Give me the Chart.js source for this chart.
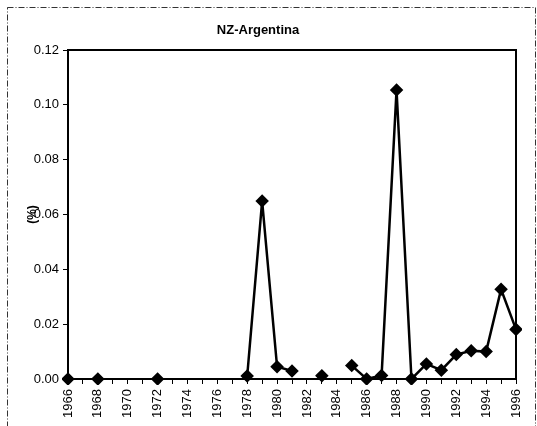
<!DOCTYPE html>
<html>
<head>
<meta charset="utf-8">
<script src="https://cdn.jsdelivr.net/npm/chart.js@4"></script>
<style>
  html, body { margin: 0; padding: 0; background: #fff; }
  #wrap { width: 537px; height: 426px; }
</style>
</head>
<body>
<div id="wrap"><canvas id="myChart" width="537" height="426"></canvas></div>
<script>
const years = [];
for (let y = 1966; y <= 1996; y++) years.push(String(y));

// share (%) by year, null = no data
const values = [
  0, null, 0, null, null, null, 0, null, null, null, null, null,
  0.0011, 0.0649, 0.0045, 0.0029, null, 0.0012, null,
  0.0049, 0, 0.0013, 0.1054, 0, 0.0055, 0.0032, 0.0089, 0.0103, 0.0100,
  0.0327, 0.0181,
];
const yTicks = [0, 0.02, 0.04, 0.06, 0.08, 0.1, 0.12];

const frame = {
  id: "frame",
  beforeDraw: (chart) => {
    const { ctx } = chart;
    ctx.save();
    ctx.fillStyle = "#fff";
    ctx.fillRect(0, 0, chart.width, chart.height);
    ctx.strokeStyle = "#333";
    ctx.lineWidth = 1;
    ctx.setLineDash([6, 2, 1, 2]);
    ctx.strokeRect(7.5, 7.5, 528, 430);
    ctx.restore();
  },
  afterDraw: (chart) => {
    const { ctx, chartArea: a } = chart;
    ctx.save();
    ctx.strokeStyle = "#000";
    ctx.lineWidth = 2;
    ctx.strokeRect(a.left, a.top, a.right - a.left, a.bottom - a.top);
    // axis title sits over the 0.06 label, as in the source
    ctx.translate(33, (a.top + a.bottom) / 2);
    ctx.rotate(-Math.PI / 2);
    ctx.fillStyle = "#000";
    ctx.font = "bold 12px 'Liberation Sans', Arial, sans-serif";
    ctx.textAlign = "center";
    ctx.textBaseline = "middle";
    ctx.fillText("(%)", 0, 0);
    ctx.restore();
  },
};

Chart.defaults.font.family = "'Liberation Sans', Arial, sans-serif";
Chart.defaults.color = "#000";

new Chart(document.getElementById("myChart"), {
  type: "line",
  data: {
    labels: years,
    datasets: [
      {
        data: values,
        borderColor: "#000",
        backgroundColor: "#000",
        borderWidth: 2.5,
        pointStyle: "rectRot",
        pointRadius: 5,
        pointHoverRadius: 5,
        spanGaps: false,
        tension: 0,
        clip: 6,
      },
    ],
  },
  options: {
    responsive: false,
    animation: false,
    layout: { padding: { top: 0, right: 21, bottom: 0, left: 0 } },
    plugins: {
      legend: { display: false },
      tooltip: { enabled: false },
      title: {
        display: true,
        text: "NZ-Argentina",
        font: { size: 13, weight: "bold", lineHeight: 1.2 },
        padding: { top: 23, bottom: 11.4 },
      },
    },
    scales: {
      x: {
        offset: false,
        afterFit: (s) => { s.height = 47; },
        grid: { drawOnChartArea: false, color: "#000", tickLength: 5 },
        border: { color: "#000", width: 2 },
        ticks: {
          autoSkip: false,
          minRotation: 90,
          maxRotation: 90,
          padding: 5,
          font: { size: 13 },
          callback: function (v, i) {
            const l = years[i];
            return Number(l) % 2 === 0 ? l : "";
          },
        },
      },
      y: {
        min: 0,
        max: 0.12,
        afterFit: (s) => { s.width = 68; },
        afterBuildTicks: (s) => { s.ticks = yTicks.map((v) => ({ value: v })); },
        grid: { drawOnChartArea: false, color: "#000", tickLength: 5 },
        border: { color: "#000", width: 2 },
        ticks: {
          padding: 4,
          font: { size: 13 },
          callback: (v) => v.toFixed(2),
        },
      },
    },
  },
  plugins: [frame],
});
</script>
</body>
</html>
